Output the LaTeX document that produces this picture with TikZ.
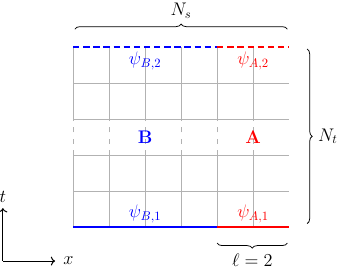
\documentclass[tikz,border=0pt]{standalone}
\usepackage{amsmath,amssymb}
\usetikzlibrary{positioning,arrows.meta,decorations.pathreplacing}

\begin{document}
\begin{tikzpicture}[
            font=\Large,
            gridline/.style={gray!60, line width=0.4pt},
            bound/.style={line width=1.3pt},
            cut/.style={dash pattern=on 5pt off 3pt},
            brace/.style={decorate, decoration={brace, amplitude=4pt}, semithick},
            axis/.style={->, thick}
        ]
        \useasboundingbox (-2.03,-1.22) rectangle (7.44,6.31);

        % Gitter (mittlere Zeile gestrichelt)
        \foreach \y in {1,...,4}
            \draw[gridline] (0,\y) -- (6,\y);
        \foreach \x in {0,...,5} {
            \draw[gridline] (\x,0) -- (\x,2);
            \draw[gridline, dash pattern=on 4pt off 5pt] (\x,2) -- (\x,3);
            \draw[gridline] (\x,3) -- (\x,5);
        }

        % Eckpunkte der Regionen
        \coordinate (lowB) at (0,0);
        \coordinate (lowAB) at (4,0);
        \coordinate (lowA) at (6,0);
        \coordinate (upB) at (0,5);
        \coordinate (upAB) at (4,5);
        \coordinate (upA) at (6,5);

        % Raender B (blau) und A (rot)
        \draw[bound, draw=blue] (lowB) -- (lowAB);
        \draw[bound, draw=red] (lowAB) -- (lowA);
        \draw[bound, cut, draw=blue] (upB) -- (upAB);
        \draw[bound, cut, draw=red] (upAB) -- (upA);

        % Beschriftungen
        \node[below, blue] (psiB2) at (2,5) {$\psi_{B,2}$};
        \node[below, red] (psiA2) at (5,5) {$\psi_{A,2}$};
        \node[above, blue] (psiB1) at (2,0) {$\psi_{B,1}$};
        \node[above, red] (psiA1) at (5,0) {$\psi_{A,1}$};
        \node[blue] (regB) at (2,2.5) {$\mathbf{B}$};
        \node[red] (regA) at (5,2.5) {$\mathbf{A}$};

        % Klammern
        \draw[brace] (0.05,5.5) -- node[above=5pt] (Ns) {$N_s$} (5.95,5.5);
        \draw[brace] (6.5,4.95) -- node[right=5pt] (Nt) {$N_t$} (6.5,0.1);
        \draw[brace] (5.95,-0.44) -- node[below=5pt] (ell) {$\ell = 2$} (4.0,-0.44);

        % Achsen
        \coordinate (orig) at (-1.95,-0.94);
        \coordinate (tend) at (-1.95,0.53);
        \coordinate (xend) at (-0.5,-0.94);
        \draw[axis] (orig) -- (tend);
        \draw[axis] (orig) -- (xend);
        \node[above=1pt of tend] (tlab) {$t$};
        \node[right=3pt of xend] (xlab) {$x$};

        \end{tikzpicture}
\end{document}
